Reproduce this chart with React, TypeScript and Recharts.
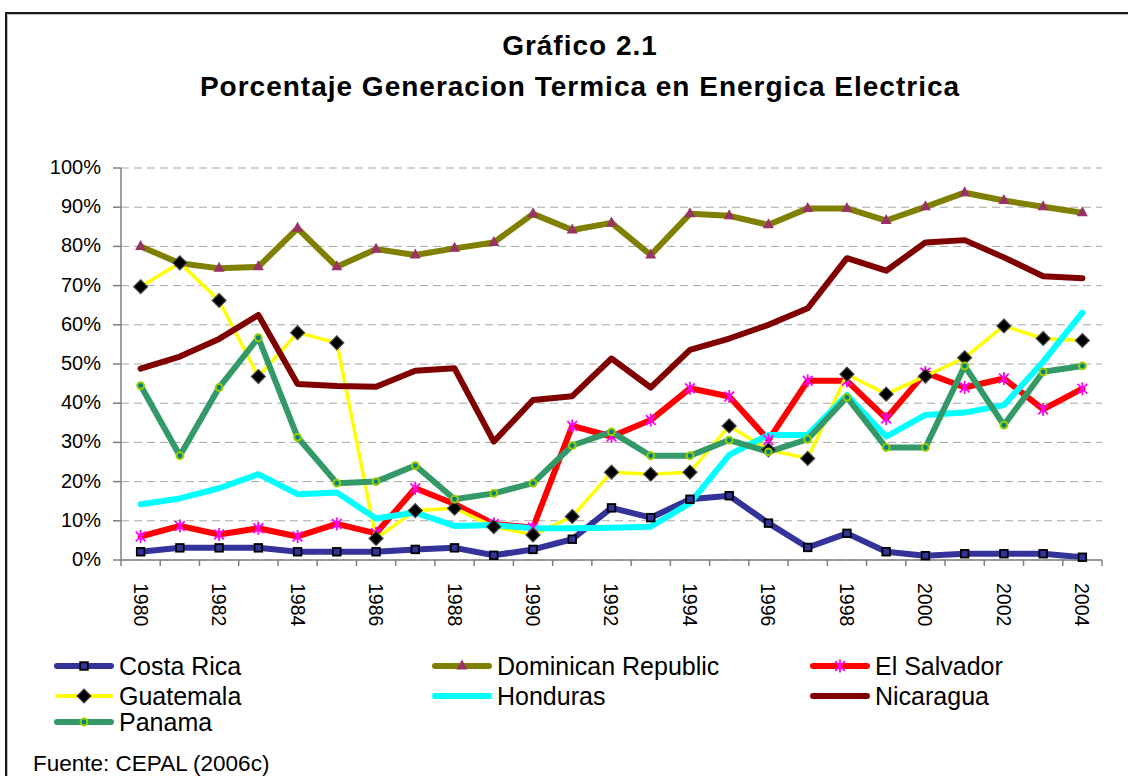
import React from 'react';
import { LineChart, Line, XAxis, YAxis, CartesianGrid } from 'recharts';

const years = [1980, 1981, 1982, 1983, 1984, 1985, 1986, 1987, 1988, 1989, 1990, 1991, 1992, 1993, 1994, 1995, 1996, 1997, 1998, 1999, 2000, 2001, 2002, 2003, 2004];

const costaRica = [2.1, 3.1, 3.1, 3.1, 2.1, 2.1, 2.1, 2.7, 3.1, 1.2, 2.7, 5.3, 13.3, 10.8, 15.5, 16.4, 9.4, 3.2, 6.8, 2.1, 1.1, 1.6, 1.6, 1.6, 0.7];
const dominicanRepublic = [80.0, 75.7, 74.4, 74.8, 84.6, 74.8, 79.3, 77.8, 79.5, 81.0, 88.3, 84.2, 86.0, 77.8, 88.3, 87.8, 85.5, 89.7, 89.7, 86.6, 90.1, 93.7, 91.7, 90.1, 88.6];
const elSalvador = [6.0, 8.7, 6.5, 8.1, 6.0, 9.2, 6.8, 18.3, 14.3, 9.2, 8.3, 34.2, 31.5, 35.7, 43.8, 41.7, 30.6, 45.7, 45.7, 36.1, 47.8, 44.0, 46.3, 38.4, 43.7];
const guatemala = [69.7, 75.8, 66.2, 46.8, 58.0, 55.4, 5.5, 12.6, 13.2, 8.5, 6.4, 11.1, 22.4, 21.9, 22.4, 34.2, 28.1, 25.9, 47.4, 42.3, 46.9, 51.6, 59.7, 56.5, 56.0];
const honduras = [14.2, 15.7, 18.3, 21.9, 16.8, 17.2, 10.6, 12.1, 8.7, 8.9, 8.1, 8.1, 8.2, 8.5, 14.5, 26.8, 31.9, 31.9, 42.1, 31.5, 37.0, 37.6, 39.5, 50.6, 63.1];
const nicaragua = [48.8, 51.9, 56.4, 62.5, 44.9, 44.4, 44.2, 48.3, 48.9, 30.2, 40.8, 41.8, 51.4, 44.0, 53.6, 56.5, 60.0, 64.2, 77.0, 73.8, 81.0, 81.6, 77.2, 72.4, 71.9];
const panama = [44.5, 26.6, 44.0, 56.7, 31.3, 19.6, 20.0, 24.1, 15.5, 17.0, 19.6, 29.2, 32.7, 26.6, 26.6, 30.6, 27.6, 30.8, 41.5, 28.7, 28.7, 49.5, 34.4, 48.0, 49.5];

const yTicks = [0, 10, 20, 30, 40, 50, 60, 70, 80, 90, 100];
const labelYears = years.filter((y) => y % 2 === 0);

const titleLine1 = 'Gráfico 2.1';
const titleLine2 = 'Porcentaje Generacion Termica en Energica Electrica';
const sourceText = 'Fuente: CEPAL (2006c)';

type Marker = 'square' | 'triangle' | 'star' | 'diamond' | 'none' | 'circle';

const series: { key: string; name: string; values: number[]; color: string; width: number; marker: Marker }[] = [
  { key: 'cr', name: 'Costa Rica', values: costaRica, color: '#333399', width: 6, marker: 'square' },
  { key: 'dr', name: 'Dominican Republic', values: dominicanRepublic, color: '#808000', width: 6, marker: 'triangle' },
  { key: 'es', name: 'El Salvador', values: elSalvador, color: '#FF0000', width: 6, marker: 'star' },
  { key: 'gt', name: 'Guatemala', values: guatemala, color: '#FFFF00', width: 3.5, marker: 'diamond' },
  { key: 'hn', name: 'Honduras', values: honduras, color: '#00FFFF', width: 6, marker: 'none' },
  { key: 'ni', name: 'Nicaragua', values: nicaragua, color: '#800000', width: 6, marker: 'none' },
  { key: 'pa', name: 'Panama', values: panama, color: '#339966', width: 6, marker: 'circle' },
];

const data = years.map((year, i) => {
  const row: Record<string, number> = { year };
  series.forEach((s) => {
    row[s.key] = s.values[i];
  });
  return row;
});

const xTicks = [...years.map((y) => y - 0.5), years[years.length - 1] + 0.5, ...labelYears].sort((a, b) => a - b);

const FONT = '"Liberation Sans", Arial, sans-serif';

function markerShape(type: Marker, cx: number, cy: number, key?: string | number) {
  switch (type) {
    case 'square':
      return <rect key={key} x={cx - 3.8} y={cy - 3.8} width={7.6} height={7.6} fill="#333399" stroke="#000" strokeWidth={1.8} />;
    case 'triangle':
      return <polygon key={key} points={`${cx},${cy - 6.5} ${cx + 5.5},${cy + 3.5} ${cx - 5.5},${cy + 3.5}`} fill="#993366" />;
    case 'star': {
      const s = 6.5;
      const d = s * 0.75;
      return (
        <g key={key} stroke="#FF00FF" strokeWidth={1.8}>
          <line x1={cx} y1={cy - s} x2={cx} y2={cy + s} />
          <line x1={cx - d} y1={cy - d} x2={cx + d} y2={cy + d} />
          <line x1={cx - d} y1={cy + d} x2={cx + d} y2={cy - d} />
        </g>
      );
    }
    case 'diamond':
      return <polygon key={key} points={`${cx},${cy - 7} ${cx + 7},${cy} ${cx},${cy + 7} ${cx - 7},${cy}`} fill="#000" stroke="#4a4a4a" strokeWidth={1.2} />;
    case 'circle':
      return <circle key={key} cx={cx} cy={cy} r={3.4} fill="#008080" stroke="#99CC00" strokeWidth={2} />;
    default:
      return <g key={key} />;
  }
}

const renderXTick = (props: any) => {
  const { x, y, payload } = props;
  const v = payload.value as number;
  if (v % 1 !== 0) {
    return <line x1={x} x2={x} y1={y} y2={y + 6} stroke="#808080" strokeWidth={1.5} />;
  }
  const y0 = y + 23;
  return (
    <text x={x} y={y0} dy="0.36em" textAnchor="start" transform={`rotate(90 ${x} ${y0})`} fontSize={19.5} fill="#000" fontFamily={FONT}>
      {v}
    </text>
  );
};

const renderYTick = (props: any) => {
  const { x, y, payload } = props;
  return (
    <text x={x} y={y} dy="0.3em" textAnchor="end" fontSize={20} fill="#000" fontFamily={FONT}>
      {`${payload.value}%`}
    </text>
  );
};

const legendCols = [54, 432, 810];
const legendRows = [666, 696, 722];

export default function App() {
  return (
    <div style={{ position: 'absolute', left: 0, top: 0, width: 1128, height: 776, background: '#fff', overflow: 'hidden', fontFamily: FONT }}>
      <div style={{ position: 'absolute', left: 5, top: 12, width: 1200, height: 800, borderTop: '2px solid #1a1a1a', borderLeft: '2px solid #1a1a1a', boxShadow: '1px 1px 0 #bbb inset' }} />
      <div style={{ position: 'absolute', left: 0, top: 32, width: 1160, textAlign: 'center', fontSize: 28, lineHeight: '28px', fontWeight: 'bold', letterSpacing: 1, color: '#000' }}>{titleLine1}</div>
      <div style={{ position: 'absolute', left: 0, top: 73, width: 1160, textAlign: 'center', fontSize: 28, lineHeight: '28px', fontWeight: 'bold', letterSpacing: 1, color: '#000' }}>{titleLine2}</div>
      <div style={{ position: 'absolute', left: 0, top: 0 }}>
        <LineChart width={1128} height={776} data={data} margin={{ top: 168, right: 26, bottom: 156, left: 0 }}>
          <CartesianGrid vertical={false} stroke="#a6a6a6" strokeDasharray="8 5" />
          <XAxis
            dataKey="year"
            type="number"
            domain={[1979.5, 2004.5]}
            ticks={xTicks}
            interval={0}
            tick={renderXTick}
            tickLine={false}
            tickSize={0}
            tickMargin={0}
            height={60}
            axisLine={{ stroke: '#808080', strokeWidth: 1.5 }}
          />
          <YAxis
            type="number"
            domain={[0, 100]}
            ticks={yTicks}
            interval={0}
            width={121}
            tickSize={8}
            tickMargin={12}
            tickLine={{ stroke: '#808080', strokeWidth: 1.5 }}
            axisLine={{ stroke: '#808080', strokeWidth: 1.5 }}
            tick={renderYTick}
          />
          {series.map((s) => (
            <Line
              key={s.key}
              type="linear"
              dataKey={s.key}
              name={s.name}
              stroke={s.color}
              strokeWidth={s.width}
              strokeLinejoin="round"
              strokeLinecap="round"
              dot={s.marker === 'none' ? false : (p: any) => markerShape(s.marker, p.cx, p.cy, `${s.key}-${p.index}`)}
              activeDot={false}
              isAnimationActive={false}
            />
          ))}
        </LineChart>
      </div>
      {series.map((s, i) => {
        const left = legendCols[i % 3];
        const cy = legendRows[Math.floor(i / 3)];
        return (
          <div key={s.key} style={{ position: 'absolute', left, top: cy - 15, height: 30, display: 'flex', alignItems: 'center' }}>
            <svg width={60} height={30} style={{ display: 'block' }}>
              <line x1={3} x2={57} y1={15} y2={15} stroke={s.color} strokeWidth={s.marker === 'diamond' ? 4 : 6} strokeLinecap="round" />
              {markerShape(s.marker, 30, 15)}
            </svg>
            <span style={{ marginLeft: 5, fontSize: 25, lineHeight: '30px', color: '#000', whiteSpace: 'nowrap' }}>{s.name}</span>
          </div>
        );
      })}
      <div style={{ position: 'absolute', left: 33, top: 752, fontSize: 22.5, lineHeight: '24px', color: '#000', whiteSpace: 'nowrap' }}>{sourceText}</div>
    </div>
  );
}
